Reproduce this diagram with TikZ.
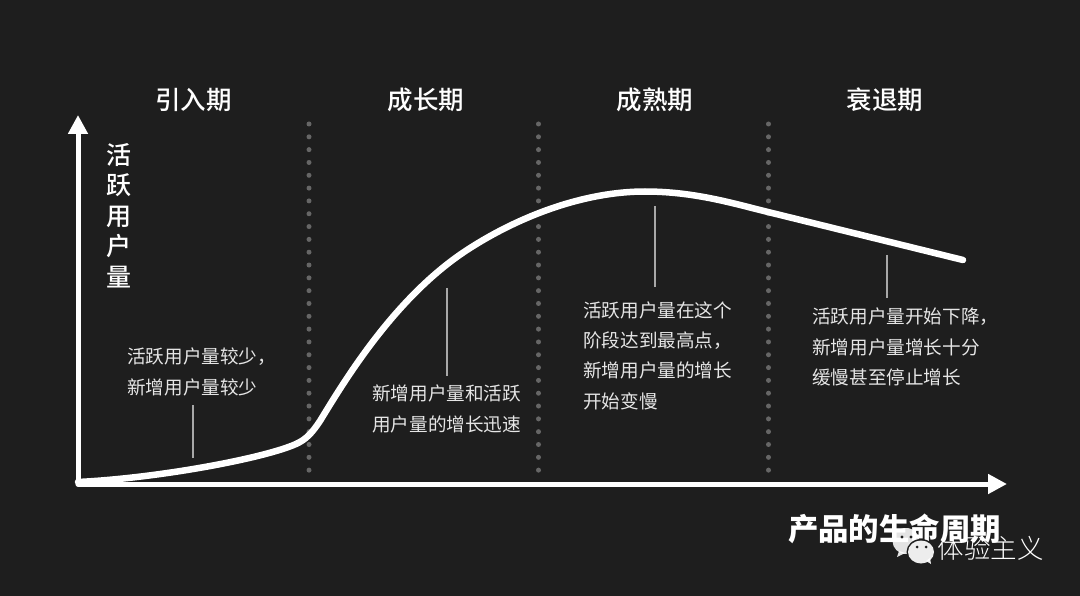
\documentclass[tikz,border=0pt]{standalone}
\usepackage{fontspec}
\usetikzlibrary{arrows.meta}
\setmainfont{Noto Sans CJK SC}
\newfontfamily\cjklight{Noto Sans CJK SC Light}
\newfontfamily\cjkmed{Noto Sans CJK SC Medium}
\definecolor{bgc}{HTML}{1E1E1E}
\definecolor{dotc}{HTML}{666666}
\definecolor{txtc}{HTML}{E6E6E6}
\definecolor{leadc}{HTML}{A8A8A8}
\tikzset{
  phase/.style={text=white,font=\fontsize{25.5}{25.5}\selectfont\cjkmed,inner sep=0pt,anchor=center},
  note/.style={text=txtc,font=\fontsize{18.6}{30.2}\selectfont,inner sep=0pt,anchor=north west,align=left},
  axis/.style={white,line width=5pt,-{Triangle[length=19pt,width=19pt]},line cap=round},
  divider/.style={dotc,line width=5pt,line cap=round,dash pattern=on 0pt off 12.82pt},
  leader/.style={leadc,line width=1.1pt},
  curve/.style={white,line width=6.5pt,line cap=round,line join=round},
  axistitle/.style={text=white,font=\fontsize{30.4}{30.4}\selectfont\bfseries,inner sep=0pt},
  ylab/.style={text=white,font=\fontsize{25}{30.5}\selectfont\cjkmed,inner sep=0pt,align=center,anchor=north},
}
\begin{document}
\begin{tikzpicture}[x=1pt,y=-1pt]
\useasboundingbox (0,0) rectangle (1080,596);
\fill[bgc] (0,0) rectangle (1080,596);
% phase titles
\node[phase] (p1) at (193.5,100) {引入期};
\node[phase] (p2) at (426,100) {成长期};
\node[phase] (p3) at (655,100) {成熟期};
\node[phase] (p4) at (885,100) {衰退期};
% dividers
\coordinate (d1a) at (309,124); \coordinate (d1b) at (309,470.5);
\coordinate (d2a) at (538.5,124); \coordinate (d2b) at (538.5,470.5);
\coordinate (d3a) at (768.5,124); \coordinate (d3b) at (768.5,470.5);
\draw[divider] (d1a) -- (d1b);
\draw[divider] (d2a) -- (d2b);
\draw[divider] (d3a) -- (d3b);
% axes
\coordinate (o) at (78,484);
\coordinate (yt) at (78,115);
\coordinate (xt) at (1007,484);
\draw[axis] (o) -- (yt);
\draw[axis] (o) -- (xt);
% curve
\coordinate (c0) at (78,482);
\coordinate (c1) at (296,444);
\coordinate (c1b) at (320,421);
\coordinate (c2) at (467,250);
\coordinate (c3) at (645,191.5);
\coordinate (c4) at (768,212);
\coordinate (c5) at (963,260);
\draw[curve] (c0) .. controls (160,478) and (265,458) .. (c1)
  .. controls (306,439.5) and (312,433) .. (c1b)
  .. controls (345,380) and (395,297) .. (c2)
  .. controls (520,215.5) and (585,191.5) .. (c3)
  .. controls (695,191.5) and (735,204) .. (c4)
  -- (c5);
% y label
\node[ylab] (yl) at (118.5,143) {活\\跃\\用\\户\\量};
% leaders
\coordinate (l1a) at (193,405); \coordinate (l1b) at (193,458);
\coordinate (l2a) at (447,288); \coordinate (l2b) at (447,376);
\coordinate (l3a) at (655,206); \coordinate (l3b) at (655,287);
\coordinate (l4a) at (887,255); \coordinate (l4b) at (887,298);
\draw[leader] (l1a) -- (l1b);
\draw[leader] (l2a) -- (l2b);
\draw[leader] (l3a) -- (l3b);
\draw[leader] (l4a) -- (l4b);
% notes
\node[note] (n1) at (127,348) {活跃用户量较少，\\新增用户量较少};
\node[note] (n2) at (372,385) {新增用户量和活跃\\用户量的增长迅速};
\node[note] (n3) at (583,301.5) {活跃用户量在这个\\阶段达到最高点，\\新增用户量的增长\\开始变慢};
\node[note] (n4) at (812,308) {活跃用户量开始下降，\\新增用户量增长十分\\缓慢甚至停止增长};
% x label
\node[axistitle,anchor=center] (xl) at (894.5,529) {产品的生命周期};
% watermark
\fill[white,opacity=.88] (906,541) ellipse (13.5pt and 13pt);
\fill[white,opacity=.88] (899,551) -- (897,557) -- (905,553) -- cycle;
\fill[bgc] (921,552) ellipse (14.5pt and 13pt);
\fill[white,opacity=.92] (921,552) ellipse (13pt and 11.5pt);
\fill[white,opacity=.92] (926,561) -- (931,564) -- (930,558) -- cycle;
\fill[bgc] (902,537) circle (1.6pt) (911,537) circle (1.6pt);
\fill[bgc] (917,547) circle (1.5pt) (926,547) circle (1.5pt);
\node[text=white,font=\fontsize{26.5}{26.5}\selectfont\cjklight,inner sep=0pt] (wm) at (990.5,548) {体验主义};
\end{tikzpicture}
\end{document}
